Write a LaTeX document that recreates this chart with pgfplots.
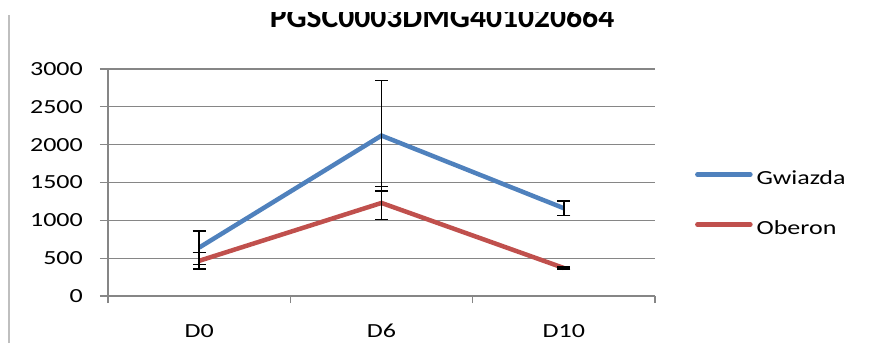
\documentclass[border=0pt]{standalone}
\usepackage{pgfplots}
\pgfplotsset{compat=1.18}
\usepackage{fontspec}
\setmainfont{Carlito}[FakeStretch=1.3]
\newfontfamily\titlefont{Carlito}
\definecolor{xlblue}{HTML}{4F81BD}
\definecolor{xlred}{HTML}{C0504D}
\definecolor{xlgray}{HTML}{868686}
\begin{document}
\begin{tikzpicture}[x=1pt,y=1pt]
\useasboundingbox (0,0) rectangle (869,343);
\draw[color=black!25, line width=1.2pt] (9,0) -- (9,328);
\begin{scope}
\clip (0,0) rectangle (869,330);
\node[anchor=base, font=\titlefont\fontsize{31.6}{34}\selectfont\bfseries, inner sep=0pt] at (442,315) {PGSC0003DMG401020664};
\end{scope}
\begin{axis}[
  at={(108pt,47pt)}, anchor=south west,
  scale only axis, width=547pt, height=227pt,
  xmin=0.5, xmax=3.5, ymin=0, ymax=3000,
  axis x line*=bottom, axis y line*=left,
  axis line style={xlgray, line width=1.2pt, -},
  xtick={1,2,3}, xticklabels={D0,D6,D10},
  minor xtick={0.5,1.5,2.5,3.5},
  major x tick style={draw=none},
  minor x tick style={xlgray, line width=1.2pt},
  ytick={0,500,...,3000},
  y tick style={xlgray, line width=1.2pt},
  tick align=outside,
  major tick length=8pt, minor tick length=7pt,
  ymajorgrids, grid style={xlgray, line width=1.2pt},
  scaled y ticks=false,
  /pgf/number format/1000 sep={},
  /pgf/number format/assume math mode=true,
  tick label style={font=\fontsize{20}{23}\selectfont},
  yticklabel style={inner sep=0pt, xshift=-17pt},
  xticklabel style={inner sep=0pt, anchor=base, yshift=-33pt},
  legend style={at={(1.073,0.403)}, anchor=west, draw=none, fill=none,
    inner sep=0pt, font=\fontsize{20}{23}\selectfont, row sep=32pt, column sep=4pt,
    nodes={inner sep=0pt, text height=14pt, text depth=4pt}},
  legend cell align=left,
  legend image code/.code={\draw[#1, line width=4.5pt, line cap=round] (0pt,5pt) -- (53pt,5pt);},
  every axis plot/.append style={line width=4.5pt, mark=none},
  error bars/y dir=both, error bars/y explicit,
  error bars/error bar style={black, line width=1.4pt},
  error bars/error mark options={black, rotate=90, mark size=6.5pt, line width=1.4pt},
]
\addplot[xlblue] coordinates {(1,640) +- (0,220) (2,2120) +- (0,730) (3,1160) +- (0,95)};
\addlegendentry{Gwiazda}
\addplot[xlred] coordinates {(1,465) +- (0,110) (2,1230) +- (0,220) (3,370) +- (0,15)};
\addlegendentry{Oberon}
\end{axis}
\end{tikzpicture}
\end{document}
